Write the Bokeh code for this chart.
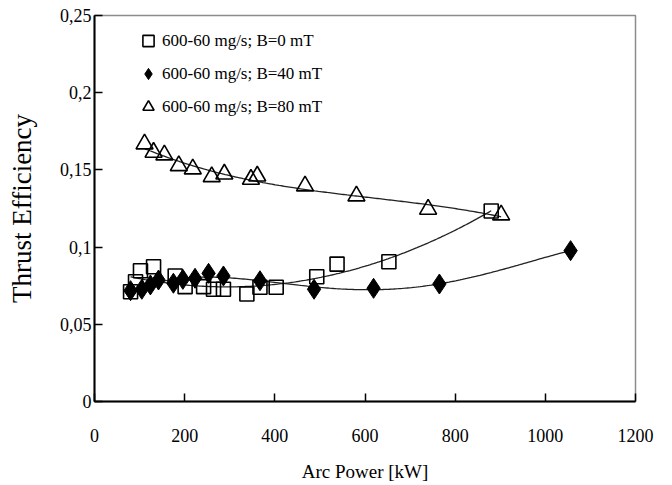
import numpy as np
from bokeh.plotting import figure
from bokeh.models import FixedTicker, Legend, LegendItem, Range1d
from bokeh.embed import file_html
from bokeh.resources import INLINE

# Data (Arc power in kW, thrust efficiency)
b0_x = [80, 91, 102, 131, 179, 201, 242, 264, 286, 338, 367, 403, 493, 538, 653, 880]
b0_y = [0.0711, 0.0776, 0.0847, 0.0873, 0.0813, 0.0744, 0.0744, 0.0727, 0.0727, 0.0696, 0.0740, 0.0740, 0.0808, 0.0890, 0.0905, 0.1234]

b40_x = [80, 105, 124, 142, 175, 196, 223, 253, 286, 367, 487, 619, 765, 1056]
b40_y = [0.0718, 0.0727, 0.0755, 0.0787, 0.0766, 0.0791, 0.0798, 0.0830, 0.0813, 0.0782, 0.0727, 0.0733, 0.0761, 0.0977]

b80_x = [111, 131, 155, 187, 218, 260, 288, 347, 361, 467, 581, 740, 902]
b80_y = [0.1668, 0.1614, 0.1597, 0.1527, 0.1506, 0.1456, 0.1473, 0.1439, 0.1460, 0.1396, 0.1331, 0.1245, 0.1208]

labels = ["600-60 mg/s; B=0 mT", "600-60 mg/s; B=40 mT", "600-60 mg/s; B=80 mT"]
y_ticks = [0, 0.05, 0.1, 0.15, 0.2, 0.25]
y_tick_labels = ["0", "0,05", "0,1", "0,15", "0,2", "0,25"]
x_ticks = [0, 200, 400, 600, 800, 1000, 1200]

FONT = "Liberation Serif"

p = figure(width=672, height=485, output_backend="svg", toolbar_location=None,
           x_range=Range1d(0, 1200), y_range=Range1d(0, 0.25),
           min_border_left=94, min_border_right=37, min_border_top=15, min_border_bottom=84)
p.grid.visible = False
p.background_fill_color = "white"
p.border_fill_color = "white"
p.outline_line_color = "#8c8c8c"
p.outline_line_width = 1.5

for ax in (p.xaxis[0], p.yaxis[0]):
    ax.axis_line_color = "black"
    ax.axis_line_width = 2
    ax.major_tick_line_color = "black"
    ax.major_tick_line_width = 1.5
    ax.major_tick_in = 8
    ax.major_tick_out = 0
    ax.minor_tick_line_color = None
    ax.major_label_text_font = FONT
    ax.major_label_text_font_size = "18px"
    ax.major_label_text_color = "black"
    ax.axis_label_text_font = FONT
    ax.axis_label_text_font_style = "normal"
    ax.axis_label_text_color = "black"

p.xaxis.ticker = FixedTicker(ticks=x_ticks)
p.yaxis.ticker = FixedTicker(ticks=y_ticks)
p.yaxis.major_label_overrides = {t: l for t, l in zip(y_ticks, y_tick_labels)}
p.xaxis.axis_label = "Arc Power [kW]"
p.yaxis.axis_label = "Thrust Efficiency"
p.xaxis.axis_label_text_font_size = "19px"
p.yaxis.axis_label_text_font_size = "27px"
p.xaxis.major_label_standoff = 27
p.yaxis.major_label_standoff = 3
p.xaxis.axis_label_standoff = 16
p.yaxis.axis_label_standoff = 20

# Trend lines (polynomial fits of each series)
for xs, ys, deg in ((b0_x, b0_y, 3), (b40_x, b40_y, 4), (b80_x, b80_y, 3)):
    c = np.polyfit(xs, ys, deg)
    xx = np.linspace(min(xs), max(xs), 200)
    p.line(xx, np.polyval(c, xx), line_color="#222222", line_width=1.3)

r0 = p.scatter(b0_x, b0_y, marker="square", size=14, fill_color="white", fill_alpha=0,
               line_color="black", line_width=1.6)
r40 = p.scatter(b40_x, b40_y, marker="diamond", size=20, fill_color="black", line_color="black")
r80 = p.scatter(b80_x, b80_y, marker="triangle", size=17, fill_color="white", fill_alpha=0,
                line_color="black", line_width=1.6)

legend = Legend(items=[LegendItem(label=labels[0], renderers=[r0]),
                       LegendItem(label=labels[1], renderers=[r40]),
                       LegendItem(label=labels[2], renderers=[r80])],
                location=(40, 278), orientation="vertical")
legend.border_line_color = None
legend.background_fill_alpha = 0
legend.padding = 0
legend.margin = 0
legend.spacing = 0
legend.glyph_width = 28
legend.glyph_height = 33
legend.label_height = 33
legend.label_standoff = 0
legend.label_text_font = FONT
legend.label_text_font_size = "17px"
legend.label_text_color = "black"
p.add_layout(legend)

open("out.html", "w").write(file_html(p, INLINE))
